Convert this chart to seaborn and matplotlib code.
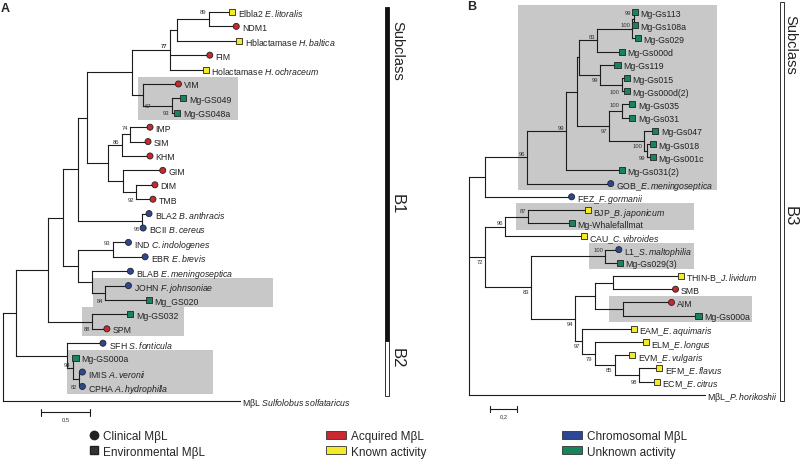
import matplotlib
matplotlib.use("Agg")
import pandas as pd
import matplotlib.pyplot as plt
import seaborn as sns
from matplotlib.patches import Rectangle, Patch
from matplotlib.lines import Line2D
from matplotlib.collections import LineCollection

# ---------------- panel A: tips, top to bottom ----------------
a_names = ["Elbla2", "NDM1", "Hblactamase", "FIM", "Holactamase", "VIM", "Mg-GS049",
           "Mg-GS048a", "IMP", "SIM", "KHM", "GIM", "DIM", "TMB", "BLA2", "BCII", "IND",
           "EBR", "BLAB", "JOHN", "Mg_GS020", "Mg-GS032", "SPM", "SFH", "Mg-GS000a",
           "IMIS", "CPHA", "MβL"]
a_species = ["E.litoralis", "", "H.baltica", "", "H.ochraceum", "", "", "", "", "", "", "",
             "", "", "B.anthracis", "B.cereus", "C.indologenes", "E.brevis",
             "E.meningoseptica", "F.johnsoniae", "", "", "", "S.fonticula", "", "A.veronii",
             "A.hydrophilla", "Sulfolobus solfataricus"]
a_tip = [2.34, 2.38, 2.41, 2.11, 2.07, 1.79, 1.84, 1.78, 1.50, 1.48, 1.50, 1.63, 1.55,
         1.53, 1.49, 1.43, 1.28, 1.45, 1.30, 1.28, 1.49, 1.30, 1.06, 1.02, 0.74, 0.81,
         0.81, 2.42]
a_origin = ["env", "clin", "env", "clin", "env", "clin", "env", "env", "clin", "clin",
            "clin", "clin", "clin", "clin", "clin", "clin", "clin", "clin", "clin", "clin",
            "env", "env", "clin", "clin", "env", "clin", "clin", ""]
a_activity = ["known", "acquired", "known", "acquired", "known", "acquired", "unknown",
              "unknown", "acquired", "acquired", "acquired", "acquired", "acquired",
              "acquired", "chromosomal", "chromosomal", "chromosomal", "chromosomal",
              "chromosomal", "chromosomal", "unknown", "unknown", "acquired", "chromosomal",
              "unknown", "chromosomal", "chromosomal", ""]

# internal nodes (children listed before parents), depth in substitutions/site
a_node_ids = ["n1", "n2", "n3", "v1", "v2", "n5", "i1", "i2", "g1", "g2", "i3", "n6",
              "b1", "n7", "d1", "j1", "j2", "n8", "n9", "s1", "n10", "c1", "c2", "c3",
              "n11", "root"]
a_node_depth = [2.10, 1.78, 1.70, 1.72, 1.43, 1.32, 1.30, 1.21, 1.36, 1.22, 1.07, 0.86,
                1.42, 0.77, 1.12, 1.04, 0.91, 0.77, 0.61, 0.91, 0.46, 0.78, 0.71, 0.65,
                0.13, 0.0]
a_node_kids = [["Elbla2", "NDM1"], ["n1", "Hblactamase"], ["n2", "FIM", "Holactamase"],
               ["Mg-GS049", "Mg-GS048a"], ["VIM", "v1"], ["n3", "v2"], ["IMP", "SIM"],
               ["i1", "KHM"], ["DIM", "TMB"], ["GIM", "g1"], ["i2", "g2"], ["n5", "i3"],
               ["BLA2", "BCII"], ["n6", "b1"], ["IND", "EBR"], ["JOHN", "Mg_GS020"],
               ["BLAB", "j1"], ["d1", "j2"], ["n7", "n8"], ["Mg-GS032", "SPM"],
               ["n9", "s1"], ["IMIS", "CPHA"], ["Mg-GS000a", "c1"], ["SFH", "c2"],
               ["n10", "c3"], ["n11", "MβL"]]
a_support = ["89", "", "77", "93", "67", "", "74", "86", "92", "", "", "", "95", "", "93",
             "84", "", "", "", "88", "", "82", "94", "", "", ""]
a_clades = [("VIM", "Mg-GS048a"), ("JOHN", "Mg_GS020"), ("Mg-GS032", "SPM"),
            ("Mg-GS000a", "CPHA")]

# ---------------- panel B: tips, top to bottom ----------------
b_names = ["Mg-Gs113", "Mg-Gs108a", "Mg-Gs029", "Mg-Gs000d", "Mg-Gs119", "Mg-Gs015",
           "Mg-Gs000d(2)", "Mg-Gs035", "Mg-Gs031", "Mg-Gs047", "Mg-Gs018", "Mg-Gs001c",
           "Mg-Gs031(2)", "GOB", "FEZ", "BJP", "Mg-Whalefallmat", "CAU", "L1",
           "Mg-Gs029(3)", "THIN-B", "SMB", "AIM", "Mg-Gs000a", "EAM", "ELM", "EVM", "EFM",
           "ECM", "MβL"]
b_species = [""] * 13 + ["E.meningoseptica", "F.gormanii", "B.japonicum", "",
                         "C.vibroides", "S.maltophilia", "", "J.lividum", "", "", "",
                         "E.aquimaris", "E.longus", "E.vulgaris", "E.flavus", "E.citrus",
                         "P.horikoshii"]
b_tip = [1.23, 1.23, 1.25, 1.13, 1.10, 1.17, 1.17, 1.21, 1.21, 1.38, 1.36, 1.36, 1.13,
         1.05, 0.76, 0.88, 0.76, 0.85, 1.11, 1.12, 1.57, 1.53, 1.50, 1.70, 1.22, 1.31,
         1.21, 1.41, 1.39, 1.75]
b_origin = ["env"] * 13 + ["clin", "clin", "env", "env", "env", "clin", "env", "env",
                           "clin", "clin", "env", "env", "env", "env", "env", "env", ""]
b_activity = ["unknown"] * 13 + ["chromosomal", "chromosomal", "known", "unknown", "known",
                                 "chromosomal", "unknown", "known", "acquired", "acquired",
                                 "unknown", "known", "known", "known", "known", "known", ""]

b_node_ids = ["g1", "g2", "g3", "g4", "g5", "g6", "g7", "g8", "g9", "g10", "g11", "g12",
              "g13", "g14", "h1", "h2", "h3", "h4", "h5", "h6", "e1", "e2", "e3", "e4",
              "h7", "h8", "h9", "root"]
b_node_depth = [1.22, 1.21, 0.95, 1.13, 0.97, 0.815, 1.13, 1.32, 1.30, 1.04, 0.80, 0.72,
                0.43, 0.12, 0.44, 0.27, 1.01, 1.07, 1.14, 0.93, 1.26, 1.08, 0.93, 0.84,
                0.785, 0.46, 0.12, 0.0]
b_node_kids = [["Mg-Gs113", "Mg-Gs108a"], ["g1", "Mg-Gs029"], ["g2", "Mg-Gs000d"],
               ["Mg-Gs015", "Mg-Gs000d(2)"], ["Mg-Gs119", "g4"], ["g3", "g5"],
               ["Mg-Gs035", "Mg-Gs031"], ["Mg-Gs018", "Mg-Gs001c"], ["Mg-Gs047", "g8"],
               ["g7", "g9"], ["g6", "g10"], ["g11", "Mg-Gs031(2)"], ["g12", "GOB"],
               ["g13", "FEZ"], ["BJP", "Mg-Whalefallmat"], ["h1", "CAU"],
               ["L1", "Mg-Gs029(3)"], ["THIN-B", "SMB"], ["AIM", "Mg-Gs000a"],
               ["h4", "h5"], ["EFM", "ECM"], ["EVM", "e1"], ["ELM", "e2"], ["EAM", "e3"],
               ["h6", "e4"], ["h3", "h7"], ["h2", "h8"], ["g14", "h9", "MβL"]]
b_support = ["99", "100", "83", "100", "99", "", "100", "99", "100", "97", "", "99", "96",
             "", "87", "96", "100", "", "", "", "98", "85", "79", "97", "94", "83", "72", ""]
b_clades = [("Mg-Gs113", "GOB"), ("BJP", "Mg-Whalefallmat"), ("L1", "Mg-Gs029(3)"),
            ("AIM", "Mg-Gs000a")]

# ---------------- style / layout ----------------
palette = {"acquired": "#c9282e", "known": "#f4ea2c", "chromosomal": "#2e4794",
           "unknown": "#17855a"}
markers = {"clin": "o", "env": "s"}
box_color = "#c8c8c8"
line_color = "#1c1c1c"
text_color = "#222222"

a_support_pos = ["t", "", "m", "b", "r", "", "t", "m", "b", "", "", "", "b", "", "t", "b",
                 "", "", "", "b", "", "b", "m", "", "", ""]
b_support_pos = ["t", "m", "m", "b", "mb", "", "t", "b", "mb", "mb", "", "m", "m", "",
                 "t", "m", "t", "", "", "", "b", "mb", "mb", "mb", "mb", "mb", "mb", ""]
a_box_x = [(1.38, 2.40), (0.92, 2.76), (0.81, 1.85), (0.65, 2.14)]
b_box_x = [(0.36, 1.84), (0.35, 1.67), (0.89, 1.67), (1.04, 2.10)]

sns.set_style("white")
plt.rcParams["font.family"] = ["Liberation Sans", "DejaVu Sans"]
plt.rcParams["mathtext.fontset"] = "custom"
plt.rcParams["mathtext.rm"] = "Liberation Sans"
plt.rcParams["mathtext.it"] = "Liberation Sans:italic"


def draw_tree(ax, names, species, sep, tips, origin, activity, node_ids, node_depth,
              node_kids, support, support_pos, clades, box_x):
    ypos = {n: i for i, n in enumerate(names)}
    xpos = dict(zip(names, tips))
    for nid, d, kids in zip(node_ids, node_depth, node_kids):
        xpos[nid] = d
        ypos[nid] = (ypos[kids[0]] + ypos[kids[-1]]) / 2

    # shaded clades
    for (first, last), (x0, x1) in zip(clades, box_x):
        ax.add_patch(Rectangle((x0, ypos[first] - 0.5), x1 - x0,
                               ypos[last] - ypos[first] + 1.0,
                               facecolor=box_color, edgecolor="none", zorder=0))

    segs = []
    for nid, kids in zip(node_ids, node_kids):
        x0 = xpos[nid]
        segs.append([(x0, ypos[kids[0]]), (x0, ypos[kids[-1]])])
        for k in kids:
            segs.append([(x0, ypos[k]), (xpos[k], ypos[k])])
    ax.add_collection(LineCollection(segs, colors=line_color, linewidths=0.8,
                                     capstyle="projecting", zorder=2))

    df = pd.DataFrame({"x": tips, "y": range(len(names)), "origin": origin,
                       "activity": activity})
    df = df[df["origin"] != ""]
    sns.scatterplot(data=df, x="x", y="y", hue="activity", style="origin",
                    palette=palette, markers=markers, s=19, edgecolor="#222",
                    linewidth=0.6, legend=False, ax=ax, zorder=3)

    for i, (n, sp, t, o) in enumerate(zip(names, species, tips, origin)):
        label = n
        if sp:
            label = n + sep + r"$\mathit{" + sp.replace(" ", r"\ ") + "}$"
        ax.annotate(label, (t, i), xytext=(4.0 if o else 1.5, 0), textcoords="offset points",
                    ha="left", va="center_baseline", fontsize=6.3, color=text_color)

    for nid, kids, s, p in zip(node_ids, node_kids, support, support_pos):
        if not s:
            continue
        x0 = xpos[nid]
        ha = "right"
        if p == "t":
            y, off, va = ypos[kids[0]], (-1.5, 0), "center"
        elif p == "b":
            y, off, va = ypos[kids[-1]], (-1.5, 0), "center"
        elif p == "m":
            y, off, va = ypos[nid], (-1.5, 1.0), "bottom"
        elif p == "mb":
            y, off, va = ypos[nid], (-1.5, -1.5), "top"
        else:
            y, off, va, ha = ypos[kids[-1]], (1.5, 0), "center", "left"
        ax.annotate(s, (x0, y), xytext=off, textcoords="offset points", ha=ha, va=va,
                    fontsize=4.2, color="#333333",
                    fontweight="bold" if s == "77" else "normal")
    ax.set_axis_off()


fig = plt.figure(figsize=(8, 4.64), dpi=100)
ax_a = fig.add_axes([0, 1 - 420 / 464, 420 / 800, 420 / 464])
ax_b = fig.add_axes([420 / 800, 1 - 420 / 464, 380 / 800, 420 / 464])

draw_tree(ax_a, a_names, a_species, " ", a_tip, a_origin, a_activity, a_node_ids,
          a_node_depth, a_node_kids, a_support, a_support_pos, a_clades, a_box_x)
draw_tree(ax_b, b_names, b_species, "_", b_tip, b_origin, b_activity, b_node_ids,
          b_node_depth, b_node_kids, b_support, b_support_pos, b_clades, b_box_x)

ax_a.set_xlim(-0.0306, 4.255)
ax_a.set_ylim(28.26, -0.90)
ax_b.set_xlim(-0.363, 2.452)
ax_b.set_ylim(30.83, -0.985)

# subclass bars
ax_a.add_patch(Rectangle((3.90, -0.35), 0.04, 23.2, facecolor="#111", edgecolor="#111",
                         lw=0.6, clip_on=False))
ax_a.add_patch(Rectangle((3.90, 22.85), 0.04, 3.82, facecolor="white", edgecolor="#111",
                         lw=0.6, clip_on=False))
ax_b.add_patch(Rectangle((2.305, -0.76), 0.03, 30.23, facecolor="white", edgecolor="#111",
                         lw=0.6, clip_on=False))
for ax, x, y, s, fs in [(ax_a, 4.02, 2.64, "Subclass", 10.5), (ax_a, 4.02, 13.3, "B1", 12),
                        (ax_a, 4.02, 24.0, "B2", 12), (ax_b, 2.378, 2.42, "Subclass", 10.5),
                        (ax_b, 2.378, 15.4, "B3", 12)]:
    ax.text(x, y, s, rotation=270, ha="center", va="center", fontsize=fs, color=text_color,
            clip_on=False)

# scale bars
for ax, x0, length, y, lab in [(ax_a, 0.39, 0.5, 27.8, "0.5"), (ax_b, 0.156, 0.2, 30.08, "0,2")]:
    ax.plot([x0, x0 + length], [y, y], color=line_color, lw=0.8, clip_on=False)
    for xe in (x0, x0 + length):
        ax.plot([xe, xe], [y - 0.22, y + 0.22], color=line_color, lw=0.8, clip_on=False)
    ax.annotate(lab, (x0 + length / 2, y), xytext=(0, -3), textcoords="offset points",
                ha="center", va="top", fontsize=4.2, color="#333333", annotation_clip=False)

fig.text(5 / 800, 1 - 9 / 464, "A", fontsize=9, fontweight="bold", ha="center", va="center")
fig.text(472 / 800, 1 - 7 / 464, "B", fontsize=9, fontweight="bold", ha="center", va="center")

# legends
shape_handles = [Line2D([], [], ls="none", marker="o", markersize=6, markerfacecolor="#222",
                        markeredgecolor="#222", label="Clinical MβL"),
                 Line2D([], [], ls="none", marker="s", markersize=5.5, markerfacecolor="#333",
                        markeredgecolor="#222", label="Environmental MβL")]
col2 = [Patch(facecolor=palette["acquired"], edgecolor="#333", lw=0.6, label="Acquired MβL"),
        Patch(facecolor=palette["known"], edgecolor="#333", lw=0.6, label="Known activity")]
col3 = [Patch(facecolor=palette["chromosomal"], edgecolor="#333", lw=0.6,
              label="Chromosomal MβL"),
        Patch(facecolor=palette["unknown"], edgecolor="#333", lw=0.6, label="Unknown activity")]
for handles, x, hl in [(shape_handles, 89, 0.8), (col2, 326, 1.7), (col3, 562, 1.7)]:
    fig.legend(handles=handles, loc="upper left", bbox_to_anchor=(x / 800, 1 - 431 / 464),
               frameon=False, fontsize=8.5, handlelength=hl, handleheight=0.65,
               handletextpad=0.4, borderpad=0, borderaxespad=0, labelspacing=0.3)

fig.savefig("out.png", dpi=100)
